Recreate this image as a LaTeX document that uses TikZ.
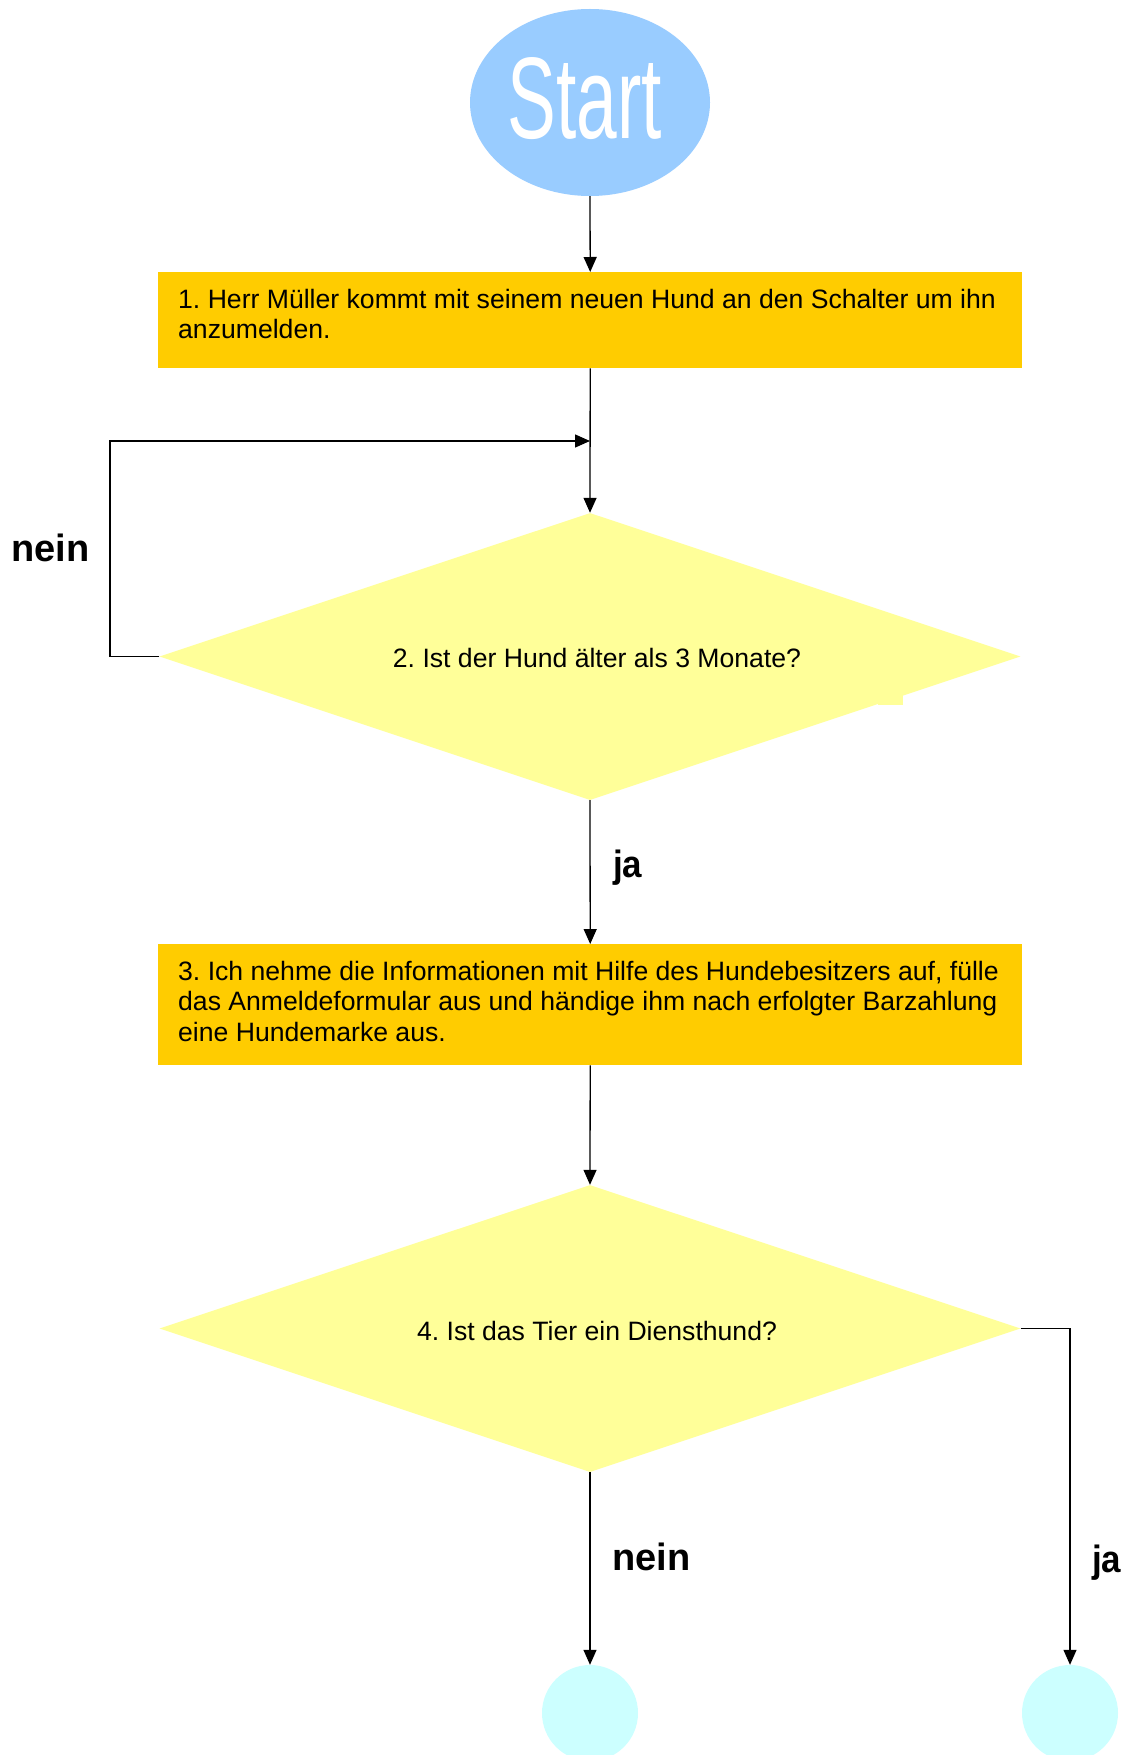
\documentclass[tikz,border=0pt]{standalone}
\usepackage{fontspec}
\setmainfont{Liberation Sans}
\usetikzlibrary{arrows.meta,shapes.geometric}
\definecolor{startblue}{HTML}{99CCFF}
\definecolor{boxorange}{HTML}{FFCC00}
\definecolor{diayellow}{HTML}{FFFF99}
\definecolor{endcyan}{HTML}{CCFFFF}
\newcommand{\bodyfont}{\fontsize{26.6pt}{30.6pt}\selectfont}
\newcommand{\labelfont}{\fontsize{38pt}{44pt}\selectfont\bfseries}
\frenchspacing
\begin{document}
\begin{tikzpicture}[x=1pt,y=-1pt,
  conn/.style={line width=1.3pt,-{Triangle[length=15pt,width=13pt]}},
  procbox/.style={rectangle,fill=boxorange,minimum width=864pt,inner sep=0pt,anchor=north west},
  decision/.style={diamond,fill=diayellow,minimum width=861pt,minimum height=287pt,inner sep=0pt,aspect=3},
  endcircle/.style={circle,fill=endcyan,minimum size=96pt,inner sep=0pt},
  bodytext/.style={inner sep=0pt,font=\bodyfont},
  branchlabel/.style={inner sep=0pt,anchor=base west,font=\labelfont}
]
\clip (0,0) rectangle (1123,1755);
\fill[white] (0,0) rectangle (1123,1755);

% Start
\node[ellipse,fill=startblue,minimum width=240pt,minimum height=187pt,inner sep=0pt] (start) at (590,102.5) {};
\node[inner sep=0pt,text=white,xscale=0.63,font=\fontsize{116pt}{120pt}\selectfont] (starttext) at (585,98.5) {Start};

% Box 1
\node[procbox,minimum height=96pt] (box1) at (158,272) {};
\node[bodytext,anchor=base west] (t1) at (178,308) {\parbox[t]{840pt}{\bodyfont 1. Herr Müller kommt mit seinem neuen Hund an den Schalter um ihn\\anzumelden.}};

% Decision 2
\node[decision] (d2) at (590,656.5) {};
\fill[diayellow] (878,690) rectangle (903,705);
\node[bodytext] (t2) at (597,658) {2. Ist der Hund älter als 3 Monate?};

% Box 3
\node[procbox,minimum height=121pt] (box3) at (158,944) {};
\node[bodytext,anchor=base west] (t3) at (178,980) {\parbox[t]{840pt}{\bodyfont 3. Ich nehme die Informationen mit Hilfe des Hundebesitzers auf, fülle\\das Anmeldeformular aus und händige ihm nach erfolgter Barzahlung\\eine Hundemarke aus.}};

% Decision 4
\node[decision] (d4) at (590,1328.5) {};
\node[bodytext] (t4) at (597,1331) {4. Ist das Tier ein Diensthund?};

% End circles
\node[endcircle] (endL) at (590,1713) {};
\node[endcircle] (endR) at (1070,1713) {};

% Connectors
\coordinate (join) at (590,441);
\draw[conn] (start.south) -- (box1.north);
\draw[conn] (box1.south) -- (d2.north);
\draw[conn] (d2.west) -- (110,656.5) |- (join);
\draw[conn] (d2.south) -- (box3.north);
\draw[conn] (box3.south) -- (d4.north);
\draw[conn] (d4.south) -- (endL.north);
\draw[conn] (d4.east) -| (endR.north);

% Labels
\node[branchlabel] (l1) at (11,561) {nein};
\node[branchlabel,xscale=0.92] (l2) at (613,877) {ja};
\node[branchlabel] (l3) at (612,1570) {nein};
\node[branchlabel,xscale=0.92] (l4) at (1092,1572) {ja};
\end{tikzpicture}
\end{document}
